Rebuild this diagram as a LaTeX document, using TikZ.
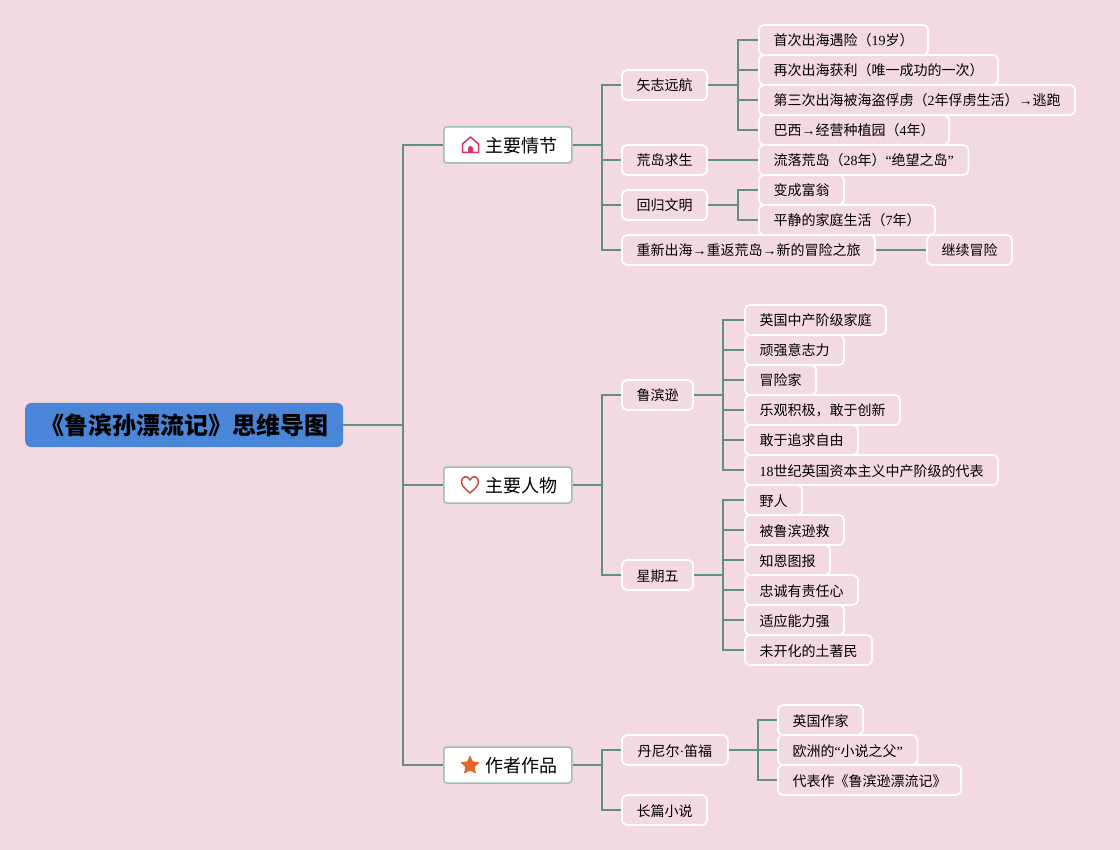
\documentclass[tikz,border=0pt]{standalone}
\usepackage{fontspec}
\setmainfont{Noto Sans CJK SC}
\newfontfamily\latnfont{Liberation Serif}
\newcommand{\en}[1]{{\latnfont #1}}
\definecolor{pagebg}{HTML}{F3D9E0}
\definecolor{rootblue}{HTML}{4A86D8}
\definecolor{linkgreen}{HTML}{5F9182}
\definecolor{mainedge}{HTML}{9CC0B5}
\tikzset{
	link/.style={draw=linkgreen,line width=2pt},
	rootbox/.style={anchor=west,fill=rootblue,rounded corners=6pt,inner xsep=15pt,minimum height=44pt,font=\fontsize{24}{28}\selectfont\bfseries,text height=21.5pt,text depth=2.5pt},
	mainbox/.style={anchor=west,draw=mainedge,line width=1.5pt,fill=white,rounded corners=3pt,inner xsep=14pt,minimum height=36pt,font=\fontsize{18}{22}\selectfont,text height=16.5pt,text depth=1.5pt},
	subbox/.style={anchor=west,draw=white,line width=1.8pt,fill=pagebg,rounded corners=5pt,inner xsep=14.6pt,minimum height=30pt,font=\fontsize{14}{17}\selectfont,text height=13pt,text depth=1pt},
}
\begin{document}
\begin{tikzpicture}[x=1pt,y=-1pt]
	\fill[pagebg] (0,0) rectangle (1120,850);
	\useasboundingbox (0,0) rectangle (1120,850);

	\node[rootbox] (root) at (25,425) {《鲁滨孙漂流记》思维导图};
	\node[mainbox] (plot) at (443,145) {\hspace{28pt}主要情节};
	\node[mainbox] (people) at (443,485) {\hspace{28pt}主要人物};
	\node[mainbox] (work) at (443,765) {\hspace{28pt}作者作品};

	% plot
	\node[subbox] (voyage) at (621,85) {矢志远航};
	\node[subbox] (island) at (621,160) {荒岛求生};
	\node[subbox] (back) at (621,205) {回归文明};
	\node[subbox] (again) at (621,250) {重新出海\en{→}重返荒岛\en{→}新的冒险之旅};
	\node[subbox] (first) at (758,40) {首次出海遇险（\en{19}岁）};
	\node[subbox] (second) at (758,70) {再次出海获利（唯一成功的一次）};
	\node[subbox] (third) at (758,100) {第三次出海被海盗俘虏（\en{2}年俘虏生活）\en{→}逃跑};
	\node[subbox] (brazil) at (758,130) {巴西\en{→}经营种植园（\en{4}年）};
	\node[subbox] (adrift) at (758,160) {流落荒岛（\en{28}年）\en{“}绝望之岛\en{”}};
	\node[subbox] (rich) at (758,190) {变成富翁};
	\node[subbox] (family) at (758,220) {平静的家庭生活（\en{7}年）};
	\node[subbox] (onward) at (926,250) {继续冒险};

	% people
	\node[subbox] (crusoe) at (621,395) {鲁滨逊};
	\node[subbox] (friday) at (621,575) {星期五};
	\node[subbox] (middle) at (744,320) {英国中产阶级家庭};
	\node[subbox] (will) at (744,350) {顽强意志力};
	\node[subbox] (bold) at (744,380) {冒险家};
	\node[subbox] (hope) at (744,410) {乐观积极，敢于创新};
	\node[subbox] (free) at (744,440) {敢于追求自由};
	\node[subbox] (type) at (744,470) {\en{18}世纪英国资本主义中产阶级的代表};
	\node[subbox] (wild) at (744,500) {野人};
	\node[subbox] (saved) at (744,530) {被鲁滨逊救};
	\node[subbox] (thanks) at (744,560) {知恩图报};
	\node[subbox] (loyal) at (744,590) {忠诚有责任心};
	\node[subbox] (adapt) at (744,620) {适应能力强};
	\node[subbox] (native) at (744,650) {未开化的土著民};

	% work
	\node[subbox,minimum width=106pt] (defoe) at (621,750) {丹尼尔\en{·}笛福};
	\node[subbox] (novel) at (621,810) {长篇小说};
	\node[subbox] (writer) at (777,720) {英国作家};
	\node[subbox] (father) at (777,750) {欧洲的\en{“}小说之父\en{”}};
	\node[subbox] (book) at (777,780) {代表作《鲁滨逊漂流记》};

	\draw[link] (root.east) -- ++(60,0) |- (plot.west);
	\draw[link] (root.east) -- ++(60,0) |- (people.west);
	\draw[link] (root.east) -- ++(60,0) |- (work.west);

	\draw[link] (plot.east) -- ++(29,0) |- (voyage.west);
	\draw[link] (plot.east) -- ++(29,0) |- (island.west);
	\draw[link] (plot.east) -- ++(29,0) |- (back.west);
	\draw[link] (plot.east) -- ++(29,0) |- (again.west);
	\draw[link] (voyage.east) -- ++(30,0) |- (first.west);
	\draw[link] (voyage.east) -- ++(30,0) |- (second.west);
	\draw[link] (voyage.east) -- ++(30,0) |- (third.west);
	\draw[link] (voyage.east) -- ++(30,0) |- (brazil.west);
	\draw[link] (island.east) -- (adrift.west);
	\draw[link] (back.east) -- ++(30,0) |- (rich.west);
	\draw[link] (back.east) -- ++(30,0) |- (family.west);
	\draw[link] (again.east) -- (onward.west);

	\draw[link] (people.east) -- ++(29,0) |- (crusoe.west);
	\draw[link] (people.east) -- ++(29,0) |- (friday.west);
	\draw[link] (crusoe.east) -- ++(29,0) |- (middle.west);
	\draw[link] (crusoe.east) -- ++(29,0) |- (will.west);
	\draw[link] (crusoe.east) -- ++(29,0) |- (bold.west);
	\draw[link] (crusoe.east) -- ++(29,0) |- (hope.west);
	\draw[link] (crusoe.east) -- ++(29,0) |- (free.west);
	\draw[link] (crusoe.east) -- ++(29,0) |- (type.west);
	\draw[link] (friday.east) -- ++(29,0) |- (wild.west);
	\draw[link] (friday.east) -- ++(29,0) |- (saved.west);
	\draw[link] (friday.east) -- ++(29,0) |- (thanks.west);
	\draw[link] (friday.east) -- ++(29,0) |- (loyal.west);
	\draw[link] (friday.east) -- ++(29,0) |- (adapt.west);
	\draw[link] (friday.east) -- ++(29,0) |- (native.west);

	\draw[link] (work.east) -- ++(29,0) |- (defoe.west);
	\draw[link] (work.east) -- ++(29,0) |- (novel.west);
	\draw[link] (defoe.east) -- ++(29,0) |- (writer.west);
	\draw[link] (defoe.east) -- ++(29,0) |- (father.west);
	\draw[link] (defoe.east) -- ++(29,0) |- (book.west);

	% icons
	\draw[color={rgb,255:red,216;green,50;blue,95},line width=1.5pt,line join=round] (462.5,152.5) -- (462.5,144) -- (470.5,137) -- (478.5,144) -- (478.5,152.5) -- cycle;
	\fill[color={rgb,255:red,216;green,50;blue,95}] (468,152.5) -- (468,148.5) arc[start angle=180,end angle=360,radius=2.5,y=1pt] -- (473,152.5) -- cycle;
	\draw[color={rgb,255:red,200;green,73;blue,63},line width=1.5pt,line join=round] (470,493) .. controls (465,488.5) and (461.5,486) .. (461.5,481.5) .. controls (461.5,476) and (468,475) .. (470,480) .. controls (472,475) and (478.5,476) .. (478.5,481.5) .. controls (478.5,486) and (475,488.5) .. (470,493) -- cycle;
	\fill[color={rgb,255:red,228;green,102;blue,47},rounded corners=1pt] (470,755) -- (472.8,761.6) -- (480,762.2) -- (474.5,767) -- (476.2,774) -- (470,770.3) -- (463.8,774) -- (465.5,767) -- (460,762.2) -- (467.2,761.6) -- cycle;
\end{tikzpicture}
\end{document}
